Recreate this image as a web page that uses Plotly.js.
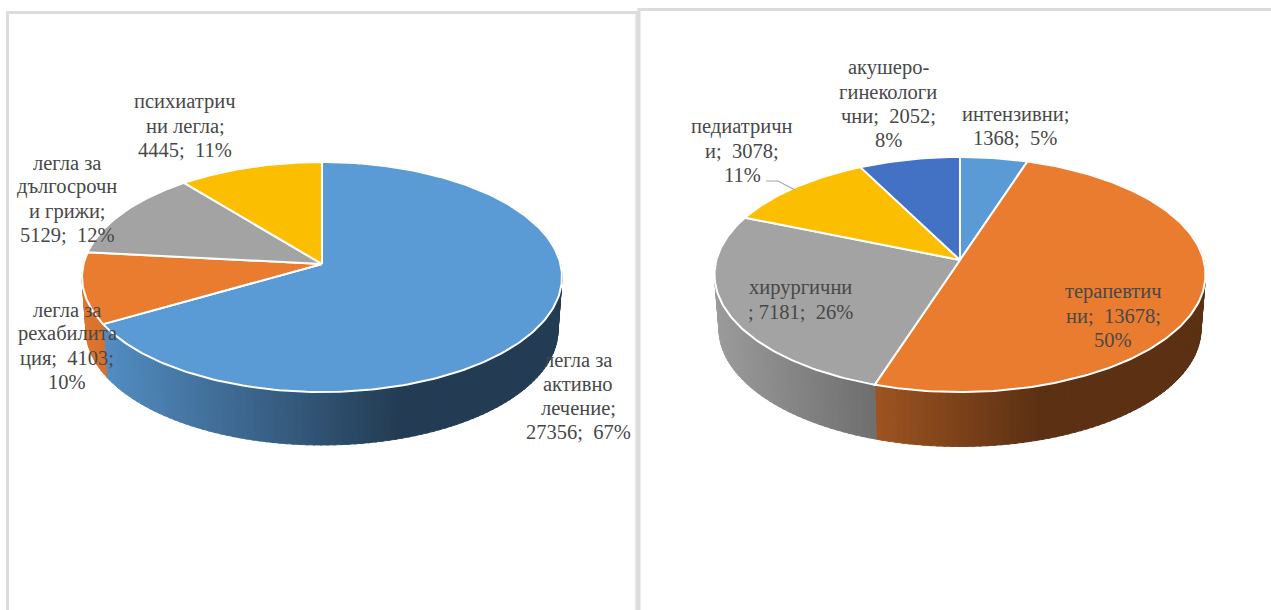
<!DOCTYPE html>
<html>
<head>
<meta charset="utf-8">
<script src="https://cdn.plot.ly/plotly-3.0.1.min.js"></script>
<style>html,body{margin:0;padding:0;background:#fff;overflow:hidden}#chart{width:1271px;height:610px}</style>
</head>
<body>
<div id="chart"></div>
<script>
// --- Data ---
const leftCategories = ["легла за активно лечение", "легла за рехабилитация", "легла за дългосрочни грижи", "психиатрични легла"];
const leftValues = [27356, 4103, 5129, 4445];
const leftColors = ["#5A9AD5", "#EA7C30", "#A3A3A3", "#FBBE00"];
const leftLabels = [
  ["легла за", "активно", "лечение;", "27356;  67%"],
  ["легла за", "рехабилита", "ция;  4103;", "10%"],
  ["легла за", "дългосрочн", "и грижи;", "5129;  12%"],
  ["психиатрич", "ни легла;", "4445;  11%"]
];
const leftLabelX = [578, 67, 67, 185];
const leftLabelY = [396, 346, 199, 126];

const rightCategories = ["интензивни", "терапевтични", "хирургични", "педиатрични", "акушеро-гинекологични"];
const rightValues = [1368, 13678, 7181, 3078, 2052];
const rightColors = ["#5A9AD5", "#EA7C30", "#A3A3A3", "#FBBE00", "#4371C3"];
const rightLabels = [
  ["интензивни;", "1368;  5%"],
  ["терапевтич", "ни;  13678;", "50%"],
  ["хирургични", "; 7181;  26%"],
  ["педиатричн", "и;  3078;", "11%"],
  ["акушеро-", "гинекологи", "чни;  2052;", "8%"]
];
const rightLabelX = [1015, 1113, 800, 742, 888];
const rightLabelY = [126, 316, 300, 151, 104];

// --- Layout of the two tilted discs (axes units equal page pixels) ---
const leftDisc  = {cx: 322, apexY: 264, top: 162, bottom: 392, halfWidth: 240, depth: 53, bottomHalfWidth: 236};
const rightDisc = {cx: 960, apexY: 260, top: 157, bottom: 392, halfWidth: 245.5, depth: 54.5, bottomHalfWidth: 241};

function hex(c){return [1,3,5].map(i=>parseInt(c.substr(i,2),16));}
function shade(c,f){return "rgb("+hex(c).map(v=>Math.round(v*f)).join(",")+")";}

function makeDisc(d){
  const far = d.apexY - d.top, near = d.bottom - d.apexY;
  const ratio = near / far;
  const k = (ratio - 1) / (ratio + 1);
  const a = far * (1 + k);
  const R = d.halfWidth * Math.sqrt(1 - k * k);
  const top = th => {
    const w = 1 + k * Math.sin(th);
    return [d.cx + R * Math.cos(th) / w, d.apexY - a * Math.sin(th) / w];
  };
  const bot = th => {
    const p = top(th);
    return [d.cx + (p[0] - d.cx) * d.bottomHalfWidth / d.halfWidth, p[1] + d.depth];
  };
  return {top, bot};
}

function drawPie(d, values, colors, traces){
  const disc = makeDisc(d);
  const total = values.reduce((s, v) => s + v, 0);
  const step = 1.5 * Math.PI / 180;
  let angle = Math.PI / 2;
  const slices = values.map((v, i) => {
    const start = angle, end = angle - v / total * 2 * Math.PI;
    angle = end;
    return {start, end, color: colors[i]};
  });
  // side wall, as shaded narrow strips
  slices.forEach(s => {
    for (let th = s.start; th > s.end; th -= step) {
      const t1 = th, t2 = Math.max(th - step * 1.3, s.end);
      if (Math.sin(t1) > 0.2 && Math.sin(t2) > 0.2) continue;
      const p = [disc.top(t1), disc.top(t2), disc.bot(t2), disc.bot(t1)];
      const mid = disc.top((t1 + t2) / 2)[0];
      const tx = (mid - (d.cx - d.halfWidth)) / (2 * d.halfWidth);
      const f = Math.max(0.39, 0.95 - 0.85 * tx);
      const col = shade(s.color, f);
      traces.push({type: "scatter", mode: "lines", x: p.map(q => q[0]).concat(p[0][0]), y: p.map(q => q[1]).concat(p[0][1]),
        fill: "toself", fillcolor: col, line: {width: 0.9, color: col}, hoverinfo: "skip", showlegend: false});
    }
  });
  // top face
  slices.forEach(s => {
    const xs = [d.cx], ys = [d.apexY];
    const n = Math.ceil((s.start - s.end) / (step / 1.5));
    for (let i = 0; i <= n; i++) {
      const q = disc.top(s.start + (s.end - s.start) * i / n);
      xs.push(q[0]); ys.push(q[1]);
    }
    xs.push(d.cx); ys.push(d.apexY);
    traces.push({type: "scatter", mode: "lines", x: xs, y: ys, fill: "toself", fillcolor: s.color,
      line: {color: "#ffffff", width: 2}, hoverinfo: "skip", showlegend: false});
  });
}

const traces = [];
drawPie(leftDisc, leftValues, leftColors, traces);
drawPie(rightDisc, rightValues, rightColors, traces);

// leader line of the "педиатрични" label
traces.push({type: "scatter", mode: "lines", x: [766, 778, 795], y: [181, 181, 190],
  line: {color: "#a6a6a6", width: 1.2}, hoverinfo: "skip", showlegend: false});

const font = {family: "'Liberation Serif', 'Times New Roman', serif", size: 20.5, color: "#484848"};
const lineGap = 24.2;
const annotations = [];
function addLabels(labels, xs, ys){
  labels.forEach((lines, i) => lines.forEach((t, j) => annotations.push({
    text: t, x: xs[i], y: ys[i] + (j - (lines.length - 1) / 2) * lineGap, xref: "x", yref: "y",
    showarrow: false, align: "center", xanchor: "center", yanchor: "middle", font: font})));
}
addLabels(leftLabels, leftLabelX, leftLabelY);
addLabels(rightLabels, rightLabelX, rightLabelY);

const border = {color: "#dcdcdc", width: 3};
const shapes = [
  {type: "path", path: "M 7.5 610 L 7.5 12.5 L 637 12.5 L 637 610", xref: "x", yref: "y", line: border, layer: "below"},
  {type: "path", path: "M 639 610 L 639 9.5 L 1271 9.5", xref: "x", yref: "y", line: border, layer: "below"}
];

Plotly.newPlot("chart", traces, {
  width: 1271, height: 610,
  margin: {l: 0, r: 0, t: 0, b: 0, pad: 0},
  paper_bgcolor: "#ffffff", plot_bgcolor: "#ffffff",
  showlegend: false,
  xaxis: {range: [0, 1271], visible: false, fixedrange: true},
  yaxis: {range: [610, 0], visible: false, fixedrange: true},
  annotations: annotations,
  shapes: shapes
}, {displayModeBar: false, staticPlot: true});
</script>
</body>
</html>
